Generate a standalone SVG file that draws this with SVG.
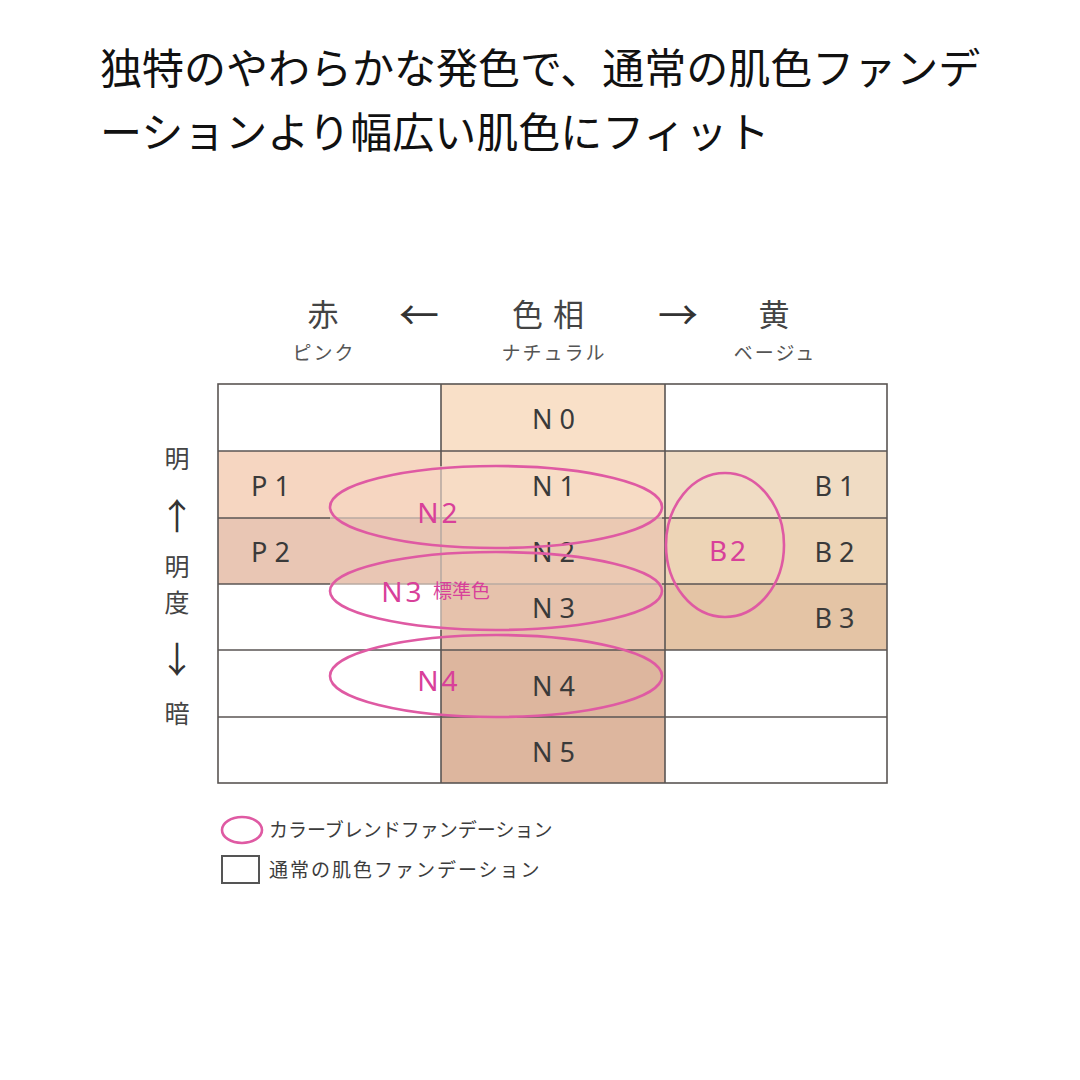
<svg xmlns="http://www.w3.org/2000/svg" width="1080" height="1080" viewBox="0 0 1080 1080">
<style>
.jp{font-family:"Noto Sans CJK JP","Noto Sans",sans-serif}
.title{font-size:42px;fill:#111}
.hd{font-size:31px;fill:#444;text-anchor:middle}
.arr{font-size:40px;fill:#333;text-anchor:middle}
.sub{font-size:19px;fill:#555;text-anchor:middle;letter-spacing:2px}
.ax{font-size:25px;fill:#444;text-anchor:middle}
.axa{font-size:36px;fill:#333;text-anchor:middle}
.lab{font-family:"Noto Sans","Open Sans",sans-serif;font-size:27px;fill:#3a3a3a;text-anchor:middle;letter-spacing:7px}
.pk{font-family:"Noto Sans","Open Sans",sans-serif;font-size:28px;fill:#d8409a;text-anchor:middle;letter-spacing:3px}
.grid{stroke:#5a5553;stroke-width:1.6;fill:none}
.gridl{stroke:#b8aaa2;stroke-width:1.6;fill:none}
.ell{fill:none;stroke:#df5aa3;stroke-width:2.6}
.leg{font-size:19px;fill:#3c3c3c}
</style>
<rect width="1080" height="1080" fill="#fff"/>
<g id="title" class="jp title">
<text x="100" y="84">独特のやわらかな発色で、通常の肌色ファンデ</text>
<text x="100" y="148">ーションより幅広い肌色にフィット</text>
</g>
<g id="header" class="jp">
<text class="hd" x="323" y="326">赤</text>
<text class="arr" x="419" y="330">←</text>
<text class="hd" x="553" y="326" letter-spacing="10">色相</text>
<text class="arr" x="678" y="330">→</text>
<text class="hd" x="774" y="326">黄</text>
<text class="sub" x="324" y="360">ピンク</text>
<text class="sub" x="554" y="360">ナチュラル</text>
<text class="sub" x="775" y="360">ベージュ</text>
</g>
<g id="axis" class="jp">
<text class="ax" x="177" y="468">明</text>
<text class="axa" x="177" y="530">↑</text>
<text class="ax" x="177" y="576">明</text>
<text class="ax" x="177" y="612">度</text>
<text class="axa" x="177" y="673">↓</text>
<text class="ax" x="177" y="723">暗</text>
</g>
<g id="cells">
<rect x="441" y="384" width="224" height="67" fill="#f9e0c8"/>
<rect x="441" y="451" width="224" height="67" fill="#f7dcc5"/>
<rect x="441" y="518" width="224" height="66" fill="#ebc9b3"/>
<rect x="441" y="584" width="224" height="66" fill="#e6c2ac"/>
<rect x="441" y="650" width="224" height="133" fill="#ddb69e"/>
<rect x="218" y="451" width="223" height="67" fill="#f6d6c1"/>
<rect x="218" y="518" width="223" height="66" fill="#e9c6b4"/>
<rect x="665" y="451" width="222" height="67" fill="#f0dcc4"/>
<rect x="665" y="518" width="222" height="66" fill="#edd4b6"/>
<rect x="665" y="584" width="222" height="66" fill="#e4c4a5"/>
</g>
<g id="grid">
<rect class="grid" x="218" y="384" width="669" height="399"/>
<line class="grid" x1="218" y1="451" x2="887" y2="451"/>
<line class="grid" x1="218" y1="518" x2="330" y2="518"/>
<line class="gridl" x1="330" y1="518" x2="662" y2="518"/>
<line class="grid" x1="662" y1="518" x2="887" y2="518"/>
<line class="grid" x1="218" y1="584" x2="330" y2="584"/>
<line class="gridl" x1="330" y1="584" x2="662" y2="584"/>
<line class="grid" x1="662" y1="584" x2="887" y2="584"/>
<line class="grid" x1="218" y1="650" x2="887" y2="650"/>
<line class="grid" x1="218" y1="717" x2="887" y2="717"/>
<line class="grid" x1="441" y1="384" x2="441" y2="466"/>
<line class="gridl" x1="441" y1="466" x2="441" y2="630"/>
<line class="grid" x1="441" y1="630" x2="441" y2="783"/>
<line class="grid" x1="665" y1="384" x2="665" y2="783"/>
</g>
<g id="labels">
<text class="lab" x="557" y="429">N0</text>
<text class="lab" x="557" y="496">N1</text>
<text class="lab" x="557" y="562">N2</text>
<text class="lab" x="557" y="618">N3</text>
<text class="lab" x="557" y="696">N4</text>
<text class="lab" x="557" y="762">N5</text>
<text class="lab" x="274" y="496">P1</text>
<text class="lab" x="274" y="562">P2</text>
<text class="lab" x="838" y="496">B1</text>
<text class="lab" x="838" y="562">B2</text>
<text class="lab" x="838" y="628">B3</text>
</g>
<g id="blends">
<ellipse class="ell" cx="496" cy="507" rx="166" ry="41"/>
<ellipse class="ell" cx="496" cy="591" rx="166" ry="39"/>
<ellipse class="ell" cx="496" cy="676" rx="166" ry="41"/>
<ellipse class="ell" cx="725" cy="545" rx="59" ry="72"/>
<text class="pk" x="439" y="523">N2</text>
<text class="pk" x="403" y="602">N3</text>
<text class="jp" x="433" y="598" font-size="19" fill="#d8409a">標準色</text>
<text class="pk" x="439" y="691">N4</text>
<text class="pk" x="729" y="561">B2</text>
</g>
<g id="legend" class="jp">
<ellipse cx="242" cy="830" rx="20" ry="13" fill="none" stroke="#df5aa3" stroke-width="2.6"/>
<text class="leg" x="269" y="837">カラーブレンドファンデーション</text>
<rect x="222" y="856" width="37" height="27" fill="none" stroke="#555" stroke-width="2"/>
<text class="leg" x="269" y="877" letter-spacing="2">通常の肌色ファンデーション</text>
</g>
</svg>
